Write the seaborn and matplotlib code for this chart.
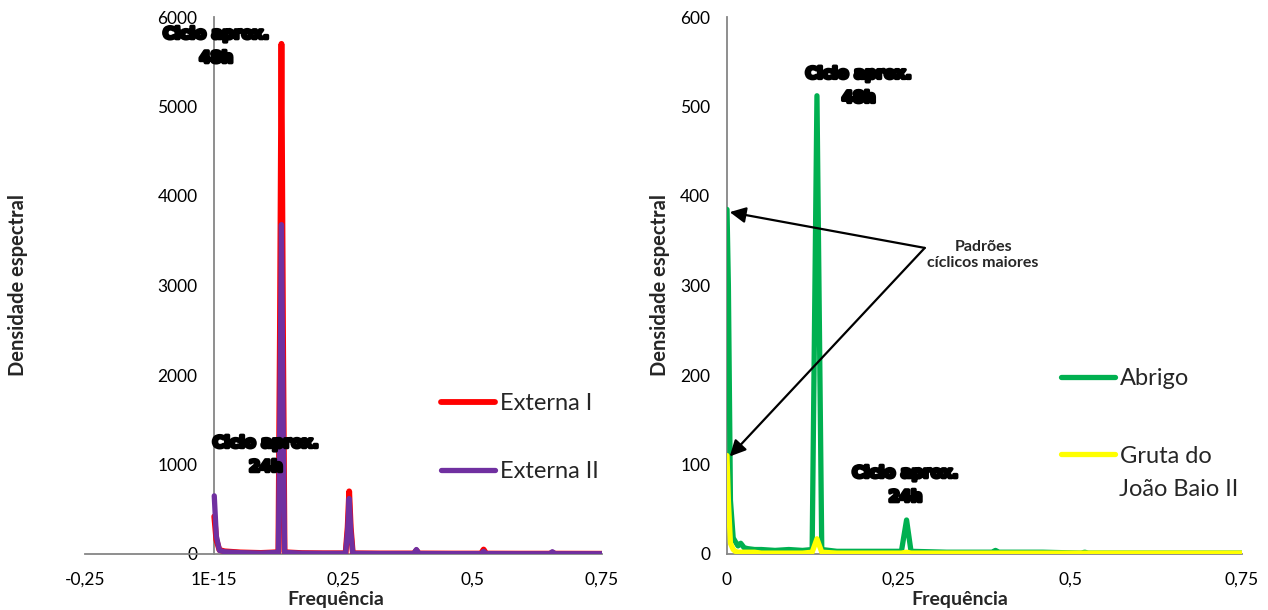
import matplotlib
matplotlib.use("Agg")
import matplotlib.pyplot as plt
import matplotlib.patheffects as pe
import seaborn as sns

# ---- data ----
freq_ext = [0.0, 0.004, 0.01, 0.02, 0.05, 0.09, 0.124, 0.127, 0.13, 0.133, 0.136,
            0.17, 0.21, 0.254, 0.258, 0.261, 0.264, 0.268, 0.32, 0.386, 0.391,
            0.396, 0.46, 0.516, 0.521, 0.526, 0.59, 0.649, 0.654, 0.659, 0.75]
externa_1 = [420, 160, 45, 30, 18, 12, 20, 2500, 5700, 2500, 20,
             10, 8, 8, 300, 700, 300, 8, 6, 6, 40,
             6, 5, 5, 50, 5, 4, 4, 15, 4, 3]
externa_2 = [650, 200, 40, 25, 15, 10, 18, 1600, 3680, 1600, 18,
             9, 7, 7, 260, 620, 260, 7, 5, 5, 50,
             5, 4, 4, 30, 4, 3, 3, 25, 3, 3]

freq_gru = [0.0, 0.002, 0.005, 0.009, 0.012, 0.016, 0.02, 0.025, 0.03, 0.04, 0.05,
            0.07, 0.09, 0.11, 0.124, 0.131, 0.138, 0.16, 0.2, 0.254, 0.2615,
            0.268, 0.32, 0.386, 0.391, 0.396, 0.46, 0.516, 0.521, 0.526, 0.59,
            0.649, 0.654, 0.659, 0.75]
abrigo = [385, 300, 60, 18, 14, 9, 12, 7, 6, 5, 5,
          4, 5, 4, 5, 512, 5, 3, 3, 3, 38,
          3, 2, 2, 4, 2, 2, 1, 2, 1, 1,
          1, 1, 1, 1]
gruta = [110, 60, 12, 5, 3, 2, 2, 2, 2, 2, 1,
         1, 1, 1, 2, 17, 2, 1, 1, 1, 2,
         1, 1, 1, 1, 1, 1, 1, 1, 1, 1,
         1, 1, 1, 1]

xticks_left = [-0.25, 0.0, 0.25, 0.5, 0.75]
xlabels_left = ["-0,25", "1E-15", "0,25", "0,5", "0,75"]
yticks_left = [0, 1000, 2000, 3000, 4000, 5000, 6000]
xticks_right = [0.0, 0.25, 0.5, 0.75]
xlabels_right = ["0", "0,25", "0,5", "0,75"]
yticks_right = [0, 100, 200, 300, 400, 500, 600]

sns.set_style("white")
plt.rcParams["font.family"] = ["Lato", "DejaVu Sans"]

W, H = 1268, 610
fig = plt.figure(figsize=(W / 100, H / 100), dpi=100)
ax1 = fig.add_axes([85 / W, 56 / H, 517 / W, 537 / H])
ax2 = fig.add_axes([727 / W, 56 / H, 515 / W, 537 / H])

sns.lineplot(x=freq_ext, y=externa_1, ax=ax1, color="#FF0000", linewidth=4.2,
             label="Externa I", zorder=3)
sns.lineplot(x=freq_ext, y=externa_2, ax=ax1, color="#7030A0", linewidth=3.8,
             label="Externa II", zorder=3)
sns.lineplot(x=freq_gru, y=abrigo, ax=ax2, color="#00B050", linewidth=3.8,
             label="Abrigo", zorder=3)
sns.lineplot(x=freq_gru, y=gruta, ax=ax2, color="#FFFF00", linewidth=3.8,
             label="Gruta do", zorder=3)


def style_axis(ax, xlim, ylim, xticks, xlabels, yticks):
    ax.set_xlim(*xlim)
    ax.set_ylim(*ylim)
    ax.set_xticks(xticks)
    ax.set_xticklabels(xlabels)
    ax.set_yticks(yticks)
    ax.spines["top"].set_visible(False)
    ax.spines["right"].set_visible(False)
    ax.spines["left"].set_position(("data", 0))
    for s in ("left", "bottom"):
        ax.spines[s].set_color("#868686")
        ax.spines[s].set_linewidth(1.3)
    ax.tick_params(direction="inout", length=10, width=1.3, color="#868686",
                   labelsize=12.5, labelcolor="black")
    ax.tick_params(axis="x", pad=8)
    ax.tick_params(axis="y", pad=7)
    ax.set_xlabel("")
    ax.set_ylabel("")
    ax.patch.set_alpha(0)


style_axis(ax1, (-0.25, 0.75), (0, 6000), xticks_left, xlabels_left, yticks_left)
style_axis(ax2, (0, 0.75), (0, 600), xticks_right, xlabels_right, yticks_right)

leg_kw = dict(frameon=False, fontsize=17, handlelength=2.3, handletextpad=0.2,
              borderpad=0, borderaxespad=0, loc="upper left")
ax1.legend(bbox_to_anchor=(441 / W, 1 - 393 / H), bbox_transform=fig.transFigure,
           labelspacing=2.0, **leg_kw)
ax2.legend(bbox_to_anchor=(1061 / W, 1 - 368 / H), bbox_transform=fig.transFigure,
           labelspacing=2.4, **leg_kw)
fig.text(1119 / W, 1 - 489 / H, "João Baio II", fontsize=17, ha="left", va="center")

# axis titles
for x in (18, 660):
    fig.text(x / W, 1 - 285 / H, "Densidade espectral", rotation=90, fontsize=14.5,
             fontweight="bold", ha="center", va="center")
for x in (336, 960):
    fig.text(x / W, 1 - 600 / H, "Frequência", fontsize=14, fontweight="bold",
             ha="center", va="center")

# heavy annotation labels
heavy = dict(fontsize=11.5, fontweight="heavy", color="black", ha="center", va="center",
             linespacing=1.75, family="DejaVu Sans",
             path_effects=[pe.withStroke(linewidth=2.5, foreground="black")])
ax1.text(0.004, 5675, "Ciclo aprox.\n48h", **heavy)
ax1.text(0.10, 1106, "Ciclo aprox.\n24h", **heavy)
ax2.text(0.192, 523, "Ciclo aprox.\n48h", **heavy)
ax2.text(0.26, 77, "Ciclo aprox.\n24h", **heavy)

# arrows to the larger cyclic patterns
arrow = dict(arrowstyle="-|>", color="black", lw=1.6, mutation_scale=24,
             shrinkA=0, shrinkB=0)
ax2.annotate("", xy=(0.004, 382), xytext=(0.288, 342), arrowprops=arrow)
ax2.annotate("", xy=(0.004, 109), xytext=(0.288, 342), arrowprops=arrow)
ax2.text(0.373, 334, "Padrões\ncíclicos maiores", fontsize=11.5, fontweight="bold",
         ha="center", va="center", linespacing=1.15)

fig.savefig("out.png", dpi=100)
